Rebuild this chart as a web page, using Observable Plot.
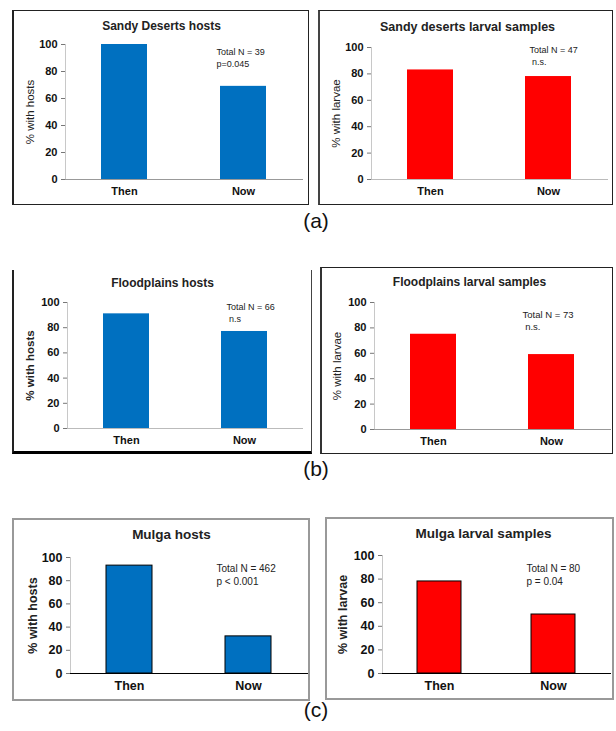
<!DOCTYPE html>
<html>
<head>
<meta charset="utf-8">
<script src="https://cdn.jsdelivr.net/npm/d3@7"></script>
<script src="https://cdn.jsdelivr.net/npm/@observablehq/plot@0.6"></script>
<style>
  html, body { margin: 0; padding: 0; background: #fff; }
  body { width: 616px; height: 731px; position: relative; overflow: hidden; font-family: "Liberation Sans", Arial, sans-serif; }
  .panel { position: absolute; }
  .box { position: absolute; box-sizing: border-box; pointer-events: none; }
  .letter { position: absolute; font-size: 21px; color: #111; transform: translate(-50%, -50%); }
</style>
</head>
<body>
<script>
// ---- data ----
const categories = ["Then", "Now"];
const panelTitles = [
  "Sandy Deserts hosts", "Sandy deserts larval samples",
  "Floodplains hosts", "Floodplains larval samples",
  "Mulga hosts", "Mulga larval samples"
];
const thenValues = [100, 83, 91, 75, 93, 78];
const nowValues  = [69, 78, 77, 59, 32, 50];
const yLabels = ["% with hosts", "% with larvae", "% with hosts", "% with larvae", "% with hosts", "% with larvae"];
const noteLine1 = ["Total N = 39", "Total N = 47", "Total N = 66", "Total N = 73", "Total N = 462", "Total N = 80"];
const noteLine2 = ["p=0.045", " n.s.", " n.s", " n.s.", "p < 0.001", "p = 0.04"];
const yTicks = [0, 20, 40, 60, 80, 100];
const panelLetters = ["(a)", "(b)", "(c)"];

// ---- layout (page coordinates) ----
const layout = [
  {L: 12, T: 10, W: 297, H: 195, axL: 65, axR: 303, y100: 44, y0: 179, titleX: 161, titleY: 26, noteX: 216, noteY: 52, ylabX: 30,
   fill: "#0070c0", stroke: "none", fs: 11, tfs: 12, lfs: 11.5, lw: "normal", nfs: 9, xAxis: "#999",
   border: "border:1px solid #222;border-left:2px solid #222;"},
  {L: 318, T: 10, W: 295, H: 195, axL: 371, axR: 608, y100: 47, y0: 179, titleX: 467, titleY: 26, noteX: 529, noteY: 50, ylabX: 336,
   fill: "#ff0000", stroke: "none", fs: 11, tfs: 12.5, lfs: 11.5, lw: "normal", nfs: 9, xAxis: "#bbb",
   border: "border:1px solid #222;border-left:2px solid #444;"},
  {L: 12, T: 270, W: 300, H: 184, axL: 67, axR: 303, y100: 302, y0: 428, titleX: 162, titleY: 283, noteX: 226, noteY: 307, ylabX: 30,
   fill: "#0070c0", stroke: "none", fs: 11, tfs: 12, lfs: 11.5, lw: "bold", nfs: 9, xAxis: "#bbb",
   border: "border-left:2px solid #222;border-right:1px solid #444;border-bottom:3px solid #000;"},
  {L: 320, T: 267, W: 293, H: 187, axL: 374, axR: 611, y100: 302, y0: 429, titleX: 469, titleY: 282, noteX: 522, noteY: 314, ylabX: 337,
   fill: "#ff0000", stroke: "none", fs: 11, tfs: 12, lfs: 11.5, lw: "normal", nfs: 9.5, xAxis: "#999",
   border: "border:1px solid #222;border-left:2px solid #333;"},
  {L: 12, T: 518, W: 298, H: 183, axL: 70, axR: 308, y100: 557, y0: 673, titleX: 171, titleY: 534, noteX: 216, noteY: 568, ylabX: 32,
   fill: "#0070c0", stroke: "#000", fs: 12.5, tfs: 13.5, lfs: 12.5, lw: "bold", nfs: 10, xAxis: "#000",
   border: "border:2px solid #999;"},
  {L: 325, T: 517, W: 289, H: 183, axL: 382, axR: 611, y100: 555, y0: 673, titleX: 483, titleY: 533, noteX: 526, noteY: 568, ylabX: 342,
   fill: "#ff0000", stroke: "#000", fs: 12.5, tfs: 13.5, lfs: 12.5, lw: "bold", nfs: 10, xAxis: "#000",
   border: "border:2px solid #999;"}
];
const letterPos = [{x: 316, y: 221}, {x: 316, y: 469}, {x: 316, y: 710}];

function drawPanel(i) {
  const lay = layout[i];
  const mL = lay.axL - lay.L, mR = lay.L + lay.W - lay.axR;
  const mT = lay.y100 - lay.T, mB = lay.T + lay.H - lay.y0;
  const rows = categories.map((c, j) => ({cat: c, value: j === 0 ? thenValues[i] : nowValues[i]}));
  const chart = Plot.plot({
    width: lay.W, height: lay.H,
    marginLeft: mL, marginRight: mR, marginTop: mT, marginBottom: mB,
    style: {fontFamily: "Liberation Sans, Arial, sans-serif", background: "transparent", overflow: "visible", color: "#111"},
    x: {domain: categories, paddingInner: 0.61, paddingOuter: 0.305, label: null},
    y: {domain: [0, 100], label: null},
    marks: [
      Plot.frame({anchor: "left", stroke: "#c8c8c8"}),
      Plot.barY(rows, {x: "cat", y: "value", fill: lay.fill, stroke: lay.stroke, strokeWidth: 1}),
      Plot.ruleY([0], {stroke: lay.xAxis, strokeWidth: 1}),
      Plot.axisY({ticks: yTicks, tickSize: 4, tickPadding: 4, fontSize: lay.fs, fontWeight: "bold", stroke: "#777", tickFormat: d => String(d)}),
      Plot.axisX({tickSize: 0, tickPadding: 8, fontSize: lay.fs, fontWeight: "bold"}),
      Plot.text([panelTitles[i]], {frameAnchor: "top-left", text: d => d, textAnchor: "middle", lineAnchor: "middle",
        dx: lay.titleX - lay.axL, dy: lay.titleY - lay.y100, fontSize: lay.tfs, fontWeight: "bold", fill: "#222"}),
      Plot.text([yLabels[i]], {frameAnchor: "left", text: d => d, rotate: -90, textAnchor: "middle", lineAnchor: "middle",
        dx: lay.ylabX - lay.axL, fontSize: lay.lfs, fontWeight: lay.lw, fill: "#222"}),
      Plot.text([noteLine1[i]], {frameAnchor: "top-left", text: d => d, textAnchor: "start", lineAnchor: "middle",
        dx: lay.noteX - lay.axL, dy: lay.noteY - lay.y100, fontSize: lay.nfs, fill: "#222"}),
      Plot.text([noteLine2[i]], {frameAnchor: "top-left", text: d => d, textAnchor: "start", lineAnchor: "middle",
        dx: lay.noteX - lay.axL, dy: lay.noteY - lay.y100 + lay.nfs * 1.3, fontSize: lay.nfs, fill: "#222"})
    ]
  });
  const wrap = document.createElement("div");
  wrap.className = "panel";
  wrap.style.left = lay.L + "px";
  wrap.style.top = lay.T + "px";
  wrap.appendChild(chart);
  document.body.appendChild(wrap);
  const box = document.createElement("div");
  box.className = "box";
  box.style.cssText = `left:${lay.L}px;top:${lay.T}px;width:${lay.W}px;height:${lay.H}px;` + lay.border;
  document.body.appendChild(box);
}

layout.forEach((_, i) => drawPanel(i));

panelLetters.forEach((t, k) => {
  const d = document.createElement("div");
  d.className = "letter";
  d.textContent = t;
  d.style.left = letterPos[k].x + "px";
  d.style.top = letterPos[k].y + "px";
  document.body.appendChild(d);
});
</script>
</body>
</html>
